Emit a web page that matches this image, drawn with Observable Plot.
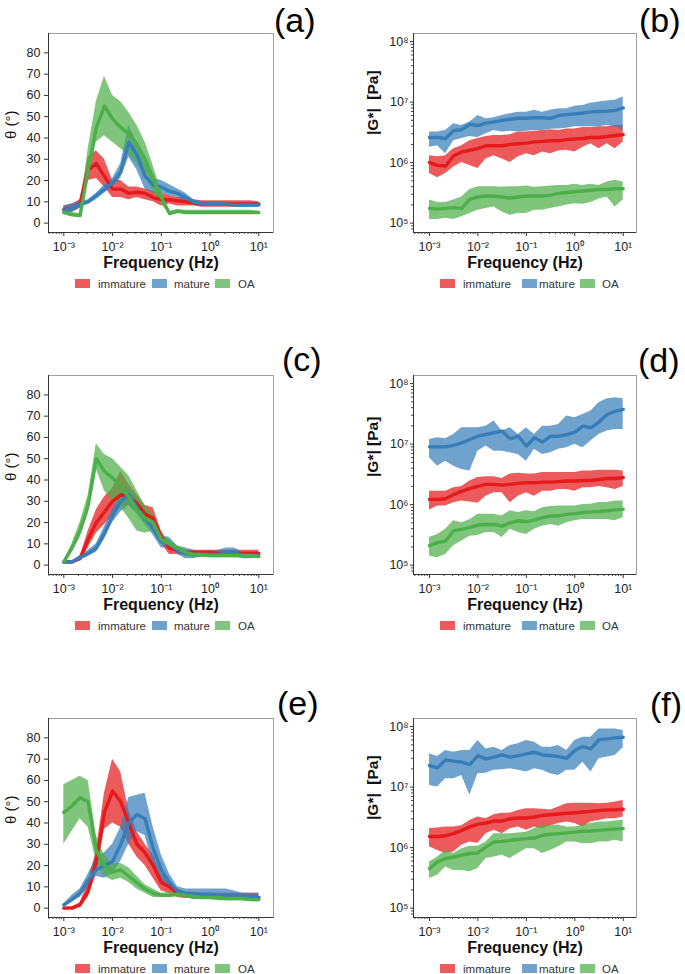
<!DOCTYPE html>
<html><head><meta charset="utf-8">
<script src="https://cdn.jsdelivr.net/npm/d3@7"></script>
<script src="https://cdn.jsdelivr.net/npm/@observablehq/plot@0.6"></script>
<style>
body{margin:0;background:#fff;}
#root{position:relative;width:685px;height:974px;overflow:hidden;background:#fff;font-family:"Liberation Sans",Arial,sans-serif;}
.panel{position:absolute;}
#overlay{position:absolute;left:0;top:0;pointer-events:none;}
</style></head><body><div id="root"></div>
<script>
// ---------- shared categories / ticks ----------
const groups = ["immature", "mature", "OA"];
const colors = ["#e41a1c", "#377eb8", "#4daf4a"];
const freq = [0.001,0.00147,0.00215,0.00316,0.00464,0.00681,0.01,0.0147,0.0215,0.0316,0.0464,0.0681,0.1,0.147,0.215,0.316,0.464,0.681,1,1.47,2.15,3.16,4.64,6.81,10];
const xMajor = [1e-3, 1e-2, 1e-1, 1, 10];
const xTickLabels = ["10\u207B\u00B3", "10\u207B\u00B2", "10\u207B\u00B9", "10\u2070", "10\u00B9"];
const thetaTicks = [0, 10, 20, 30, 40, 50, 60, 70, 80];
const gTicks = [1e5, 1e6, 1e7, 1e8];
const gTickLabels = ["10\u2075", "10\u2076", "10\u2077", "10\u2078"];
const xLabel = "Frequency (Hz)";
const thetaLabel = "\u03B8 (\u00B0)";

// ---------- (a) phase angle, degrees ----------
const aImmMean = [6.3,7,9,25,28,22,16,16,14,14.5,14,12,11,11,10.5,10,9.5,9,9,9,9,9,9,9,9];
const aImmLo   = [4.5,5,7,20,21,17,12,12,11,12,11,10,8,9,8,8,8,7.5,7.5,7.5,7.5,7.5,7.5,8,8];
const aImmHi   = [8,9,11,31,34,30,20,20,17,17,16,15,14,13,12,12,11,10.5,10.5,10.5,10.5,10.5,10.5,10.5,10];
const aMatMean = [6,7,9,10,13,16,19,24,38,32,22,18,17,15,14,12,10,9,9,9,9,8.5,8.5,8.5,8.5];
const aMatLo   = [4,5,7,9,11,14,17,21,31,25,16,14,14,13,12,10,8.5,8,8,8,8,7.5,7.5,7.5,7.5];
const aMatHi   = [8,9,10,11,14,18,21,28,46,38,28,21,20,18,16,14,11,10,10,10,10,9.5,9.5,9.5,9.5];
const aOAMean  = [5,4,3.5,25,45,55,49,45,42,37,30,21,12,4.5,5.5,5,5,5,5,5,5,5,5,5,5];
const aOALo    = [4,3,2.5,20,38,41,38,35,32,28,22,15,9,4,5,4.5,4,4,4,4,4,4,4,4,4];
const aOAHi    = [7,5,4.5,35,57,69,60,57,52,46,38,27,15,5.5,6.5,6,6,6,6,6,6,6,6,6,5.5];

// ---------- (b) |G*|, MPa ----------
const bImmMean = [1.0,0.9,0.88,1.3,1.5,1.6,1.7,1.9,1.9,1.9,2.0,2.05,2.1,2.2,2.24,2.3,2.3,2.4,2.45,2.5,2.6,2.6,2.7,2.8,2.9];
const bImmLo   = [0.66,0.56,0.66,0.85,1.0,0.9,0.8,1.15,1.3,1.15,1.0,1.25,1.4,1.3,1.5,1.4,1.55,1.6,1.5,1.8,2.05,1.7,2.05,1.7,2.2];
const bImmHi   = [1.3,1.25,1.3,1.7,1.9,2.3,2.5,2.7,2.8,2.8,2.9,3.2,3.2,3.3,3.4,3.5,3.4,3.6,3.6,3.8,3.8,3.9,3.9,4.1,4.1];
const bMatMean = [2.6,2.6,2.5,3.4,3.5,4.3,4.1,4.5,4.7,5.0,5.2,5.4,5.4,5.5,5.5,5.4,6.0,6.2,6.4,6.6,6.9,7.0,7.1,7.3,8.0];
const bMatLo   = [1.8,1.9,1.4,2.3,2.5,2.7,2.6,3.0,3.4,3.2,3.3,3.2,3.3,3.4,3.4,3.55,3.6,3.7,3.9,3.9,3.9,3.9,4.1,3.9,3.4];
const bMatHi   = [3.2,3.2,3.4,4.4,4.1,4.7,6.0,5.3,5.5,6.0,6.4,6.8,6.8,7.3,6.8,7.3,7.8,7.8,8.5,8.8,9.6,10,10.4,10.7,12.1];
const bOAMean  = [0.175,0.17,0.175,0.18,0.175,0.25,0.27,0.28,0.28,0.27,0.26,0.27,0.28,0.28,0.28,0.29,0.31,0.32,0.33,0.34,0.35,0.36,0.36,0.37,0.37];
const bOALo    = [0.115,0.115,0.12,0.115,0.127,0.144,0.163,0.175,0.185,0.153,0.135,0.144,0.144,0.163,0.163,0.175,0.185,0.2,0.21,0.205,0.22,0.25,0.27,0.185,0.24];
const bOAHi    = [0.24,0.22,0.22,0.24,0.27,0.36,0.4,0.4,0.4,0.39,0.4,0.4,0.41,0.39,0.4,0.41,0.42,0.42,0.44,0.42,0.44,0.42,0.48,0.51,0.48];

// ---------- (c) phase angle, degrees ----------
const cImmMean = [1.5,1.5,3,12,20,25,30,33,32,29,24,22,13,8,7,6,6,6,6,5.5,5.5,5.5,5.5,5.5,5.5];
const cImmLo   = [1,1,2,8,15,19,23,28,28,25,20,18,10,5,5,4.5,4.5,4.5,4.5,4.5,4.5,4.5,4.5,4.5,4.5];
const cImmHi   = [2,2,4,16,26,32,36,44,38,33,28,27,16,10,8,7,7,7,7,7,7,7,7,7,7];
const cMatMean = [1.5,1.5,3.5,5.5,8,15,23,30,33,27,22,17,11,10,7,5.5,5,5,5,5,6,6,4.5,4.5,4.5];
const cMatLo   = [1,1,2.5,4,6,12,20,25,28,24,19,14,8,8,5,3,3,4,4,4,4,4,3,3,3.5];
const cMatHi   = [2,2,4.5,7,10,18,26,34,36,31,25,19,14,13,9,8,7,6,6,7,8,8,6,6,6];
const cOAMean  = [1.5,8,16,28,50,44,41,37,32,26,22,20,12,10,8,6,5,5,4.5,4.5,4.5,4.5,4.5,4.5,4];
const cOALo    = [1,6,13,24,45,35,30,27,22,16,15,16,10,8,6,4,3.5,3.5,3.5,3.5,3.5,3.5,3.5,3.5,3];
const cOAHi    = [2,10,20,33,57,52,50,46,42,35,28,24,14,12,9,7,6,6,6,6,6,6,6,6,5.5];

// ---------- (d) |G*|, MPa ----------
const dImmMean = [1.22,1.22,1.25,1.47,1.67,1.83,2.0,2.16,2.16,2.1,2.16,2.24,2.3,2.3,2.35,2.35,2.4,2.45,2.45,2.5,2.5,2.6,2.7,2.7,2.8];
const dImmLo   = [0.81,0.95,0.95,1.07,1.15,1.1,1.05,1.38,1.57,1.57,1.07,1.38,1.57,1.38,1.67,1.67,1.78,1.78,1.67,1.9,1.9,2.0,1.9,1.78,2.0];
const dImmHi   = [1.67,1.67,1.67,1.9,2.0,2.45,2.8,2.9,2.9,2.7,3.2,3.3,3.2,3.2,3.4,3.4,3.4,3.4,3.4,3.6,3.6,3.7,3.7,3.7,3.6];
const dMatMean = [9.0,9.0,9.0,9.5,10.5,11.9,13.5,14.4,15.4,16.4,12.2,13.5,9.3,12.7,10.8,13.5,13.5,14.4,15.8,19.8,18.6,23.1,30.9,35.1,37.4];
const dMatLo   = [5.95,4.3,5.2,4.3,3.8,3.6,7.6,9.3,7.6,7.6,7.2,6.75,5.2,8.2,6.75,7.2,8.2,8.7,9.9,8.7,11.2,14.4,16.4,17.5,17.5];
const dMatHi   = [11.9,12.7,12.2,14.4,18.6,18.6,18.6,19.8,24.0,16.4,18.6,14.4,18.6,14.4,19.8,19.8,21.1,29.0,27.2,30.9,35.1,48.2,56.0,58.2,56.0];
const dOAMean  = [0.21,0.236,0.25,0.37,0.39,0.42,0.46,0.47,0.47,0.44,0.5,0.54,0.52,0.56,0.61,0.65,0.65,0.69,0.71,0.74,0.76,0.77,0.79,0.82,0.84];
const dOALo    = [0.142,0.133,0.15,0.21,0.25,0.3,0.31,0.345,0.345,0.285,0.39,0.345,0.32,0.39,0.44,0.47,0.44,0.5,0.54,0.57,0.57,0.57,0.57,0.54,0.61];
const dOAHi    = [0.285,0.32,0.39,0.54,0.5,0.56,0.69,0.69,0.69,0.65,0.79,0.74,0.79,0.76,0.89,0.93,0.95,0.95,0.95,1.0,1.01,1.08,1.08,1.15,1.15];

// ---------- (e) phase angle, degrees ----------
const eImmMean = [0,0,1.5,8,22,45,55,50,40,30,26,20,12,10,7,6,6,5.5,5.5,5,5,5,5,5,5];
const eImmLo   = [0,0,0.5,5,16,37,40,38,30,24,20,14,8,7,5,4.5,4.5,4.5,4.5,4,4,4,4,4,4];
const eImmHi   = [0.5,0.5,2.5,12,27,54,70,64,46,36,30,25,16,12,9,7.5,7.5,7,7,7,7,7,7,7,7];
const eMatMean = [1.5,4,7,13,18,20,22,30,40,44,42,28,18,12,8,7,6.5,6.5,6.5,6,6,6,5.5,5,5];
const eMatLo   = [1,3,5,10,15,14,16,22,30,36,34,20,13,9,6,5,4,4,4,4,4,4,4,4,4];
const eMatHi   = [2,6,9,16,24,26,30,38,52,53,54,38,25,16,10,9,9,9,9,9,9,8,7,7,7];
const eOAMean  = [45,48,52,50,27,20,17,18,15,12,9,7,6,6,6.5,6,5.5,5,5,5,4.5,4.5,4.5,4,4];
const eOALo    = [30,36,42,38,22,15,13,14,12,9,7,5,5,5,5.5,5,4,4,4,3.5,3.5,3.5,3.5,3,3];
const eOAHi    = [58,60,62,60,34,25,21,21,19,15,11,9,7,7.5,7.5,7,6.5,6,6,6,5.5,5.5,5.5,5,5];

// ---------- (f) |G*|, MPa ----------
const fImmMean = [1.53,1.53,1.57,1.7,1.93,2.2,2.42,2.55,2.75,2.75,3.0,3.08,3.08,3.2,3.4,3.5,3.6,3.7,3.77,3.87,3.97,4.1,4.2,4.2,4.3];
const fImmLo   = [1.03,0.9,0.8,0.85,1.09,1.24,1.18,1.7,1.93,1.7,2.05,2.2,1.93,2.2,2.05,2.3,2.5,2.65,2.5,2.2,2.65,2.8,3.0,3.0,3.2];
const fImmHi   = [2.05,2.1,2.2,2.2,2.3,2.8,3.2,3.0,3.5,3.7,3.7,4.1,4.4,4.4,4.3,4.2,4.7,5.3,5.4,5.4,5.4,5.3,5.4,5.65,6.0];
const fMatMean = [22.7,20.8,28.2,26.8,25.8,23.6,33.2,29.2,31.2,34.0,31.2,33.2,35.4,37.7,34.0,33.2,31.9,30.0,40.1,46.8,42.8,61.0,62.6,65.0,66.6];
const fMatLo   = [10.6,10,13.7,13.7,15.6,7.3,16.6,17.0,18.9,19.3,20.1,18.9,17.7,20.1,18.9,16.6,15.6,18.9,18.9,25.8,17.7,29.4,31.3,33.3,44.5];
const fMatHi   = [35.4,31.9,40.1,37.7,40.1,40.1,58.7,42.8,45.6,40.1,48.6,51.8,58.7,55.1,45.6,45.6,48.6,40.1,58.7,66.6,66.6,91.5,91.5,91.5,85.9];
const fOAMean  = [0.45,0.58,0.66,0.70,0.75,0.8,0.82,1.03,1.24,1.27,1.32,1.36,1.41,1.44,1.6,1.66,1.7,1.75,1.8,1.86,1.88,1.93,1.98,2.03,2.06];
const fOALo    = [0.31,0.35,0.48,0.42,0.42,0.4,0.45,0.66,0.7,0.75,0.66,0.8,0.96,0.96,0.8,0.9,1.03,1.24,1.24,1.16,1.16,1.24,1.24,1.32,1.24];
const fOAHi    = [0.58,0.7,0.9,0.8,0.96,1.05,1.05,1.24,1.7,1.7,1.7,1.75,1.8,2.06,2.34,2.34,2.34,2.2,2.2,2.34,2.5,2.65,2.65,2.75,2.83];

// ---------- build ----------
function table(series, scale) {
  const rows = [];
  series.forEach((s, k) => freq.forEach((f, i) => rows.push({
    group: groups[k], f, m: s[0][i] * scale, lo: s[1][i] * scale, hi: s[2][i] * scale
  })));
  return rows;
}

function minorTicks(lo, hi, e0, e1) {
  const t = [];
  for (let e = e0; e <= e1; e++) for (let k = 2; k <= 9; k++) {
    const v = k * Math.pow(10, e);
    if (v > lo && v < hi) t.push(v);
  }
  return t;
}

const root = document.getElementById("root");

function panel(cfg) {
  const {data, log, left, top, width, mL, mR, yLabel, ldx, ldy} = cfg;
  const xDom = log ? [4.68e-4, 18.8] : [4.85e-4, 20];
  const yDom = log ? [7.0e4, 1.36e8] : [-4.4, 89.1];
  const marks = [
    Plot.areaY(data, {x: "f", y1: "lo", y2: "hi", z: "group", fill: "group", fillOpacity: 0.72}),
    Plot.lineY(data, {x: "f", y: "m", z: "group", stroke: "group", strokeWidth: 3.4, strokeLinejoin: "round"}),
    Plot.frame({stroke: "#a0a0a0"}),
    Plot.ruleX([xDom[0]], {stroke: "#333"}),
    Plot.ruleY([yDom[0]], {stroke: "#333"}),
    Plot.axisX(minorTicks(xDom[0], xDom[1], -4, 1), {tickSize: 2, tickFormat: () => "", label: null, stroke: "#444"}),
    Plot.axisX(xMajor, {tickSize: 4, tickPadding: 6, fontSize: 12.5, tickFormat: d => xTickLabels[xMajor.indexOf(d)], label: null, stroke: "#333"}),
    Plot.text([xLabel], {text: d => d, frameAnchor: "bottom", dy: 35, fontWeight: "bold", fontSize: 16, fill: "#111"}),
    Plot.text([yLabel], {text: d => d, frameAnchor: "left", rotate: -90, dx: ldx, dy: ldy,
      fontWeight: log ? "bold" : "normal", fontSize: log ? 15.5 : 15, fill: "#111"})
  ];
  if (log) {
    marks.push(Plot.axisY(minorTicks(yDom[0], yDom[1], 4, 8), {tickSize: 2, tickFormat: () => "", label: null, stroke: "#444"}));
    marks.push(Plot.axisY(gTicks, {tickSize: 3, tickPadding: 2, fontSize: 12.5, tickFormat: d => gTickLabels[gTicks.indexOf(d)], label: null, stroke: "#333"}));
  } else {
    marks.push(Plot.axisY(thetaTicks, {tickSize: 4, tickPadding: 4, fontSize: 12.5, label: null, stroke: "#333"}));
  }
  const chart = Plot.plot({
    width, height: 275,
    marginLeft: mL, marginRight: mR, marginTop: 33, marginBottom: 43,
    style: {fontFamily: "'Liberation Sans', Arial, sans-serif", fontSize: "12.5px", color: "#222", background: "transparent", overflow: "visible"},
    x: {type: "log", domain: xDom, label: null},
    y: log ? {type: "log", domain: yDom, label: null} : {domain: yDom, label: null},
    color: {domain: groups, range: colors},
    marks
  });
  const div = document.createElement("div");
  div.className = "panel";
  div.style.left = left + "px";
  div.style.top = top + "px";
  div.style.width = width + "px";
  div.appendChild(chart);
  root.appendChild(div);
}

const rowTop = [0, 342, 685];
const gLabel1 = "|G*|\u00A0\u00A0[Pa]";
const gLabel2 = "|G*| [Pa]";

const thetaSets = [
  [[aImmMean, aImmLo, aImmHi], [aMatMean, aMatLo, aMatHi], [aOAMean, aOALo, aOAHi]],
  [[cImmMean, cImmLo, cImmHi], [cMatMean, cMatLo, cMatHi], [cOAMean, cOALo, cOAHi]],
  [[eImmMean, eImmLo, eImmHi], [eMatMean, eMatLo, eMatHi], [eOAMean, eOALo, eOAHi]]
];
const gSets = [
  [[bImmMean, bImmLo, bImmHi], [bMatMean, bMatLo, bMatHi], [bOAMean, bOALo, bOAHi]],
  [[dImmMean, dImmLo, dImmHi], [dMatMean, dMatLo, dMatHi], [dOAMean, dOALo, dOAHi]],
  [[fImmMean, fImmLo, fImmHi], [fMatMean, fMatLo, fMatHi], [fOAMean, fOALo, fOAHi]]
];
const gLabels = [gLabel1, gLabel2, gLabel1];

for (let r = 0; r < 3; r++) {
  panel({data: table(thetaSets[r], 1), log: false, left: 0, top: rowTop[r], width: 290, mL: 48, mR: 17,
         yLabel: thetaLabel, ldx: -37, ldy: 6});
  panel({data: table(gSets[r], 1e6), log: true, left: 340, top: rowTop[r], width: 310, mL: 73, mR: 14,
         yLabel: gLabels[r], ldx: -40, ldy: 2});
}

// ---------- overlay: panel letters and legends ----------
const letters = ["(a)", "(b)", "(c)", "(d)", "(e)", "(f)"];
const letterPos = [[274, 32], [639, 32], [282, 371], [638, 372], [277, 715], [650, 716]];
const NS = "http://www.w3.org/2000/svg";
const ov = document.createElementNS(NS, "svg");
ov.setAttribute("id", "overlay");
ov.setAttribute("width", 685);
ov.setAttribute("height", 974);
ov.setAttribute("font-family", "'Liberation Sans', Arial, sans-serif");
root.appendChild(ov);
function txt(x, y, s, size, fill) {
  const t = document.createElementNS(NS, "text");
  t.setAttribute("x", x); t.setAttribute("y", y);
  t.setAttribute("font-size", size); t.setAttribute("fill", fill);
  t.textContent = s; ov.appendChild(t);
}
letters.forEach((s, i) => txt(letterPos[i][0], letterPos[i][1], s, 34, "#000"));

const legRectX = [[75, 152, 215], [440, 522, 580]];
const legTextX = [[98, 174, 238], [463, 539, 602]];
for (let r = 0; r < 3; r++) for (let c = 0; c < 2; c++) {
  const y0 = 279 + rowTop[r];
  groups.forEach((g, k) => {
    const rc = document.createElementNS(NS, "rect");
    rc.setAttribute("x", legRectX[c][k]); rc.setAttribute("y", y0);
    rc.setAttribute("width", 15); rc.setAttribute("height", 9);
    rc.setAttribute("fill", colors[k]); rc.setAttribute("fill-opacity", 0.72);
    ov.appendChild(rc);
    txt(legTextX[c][k], y0 + 8.5, g, 11.5, "#333");
  });
}
</script></body></html>
